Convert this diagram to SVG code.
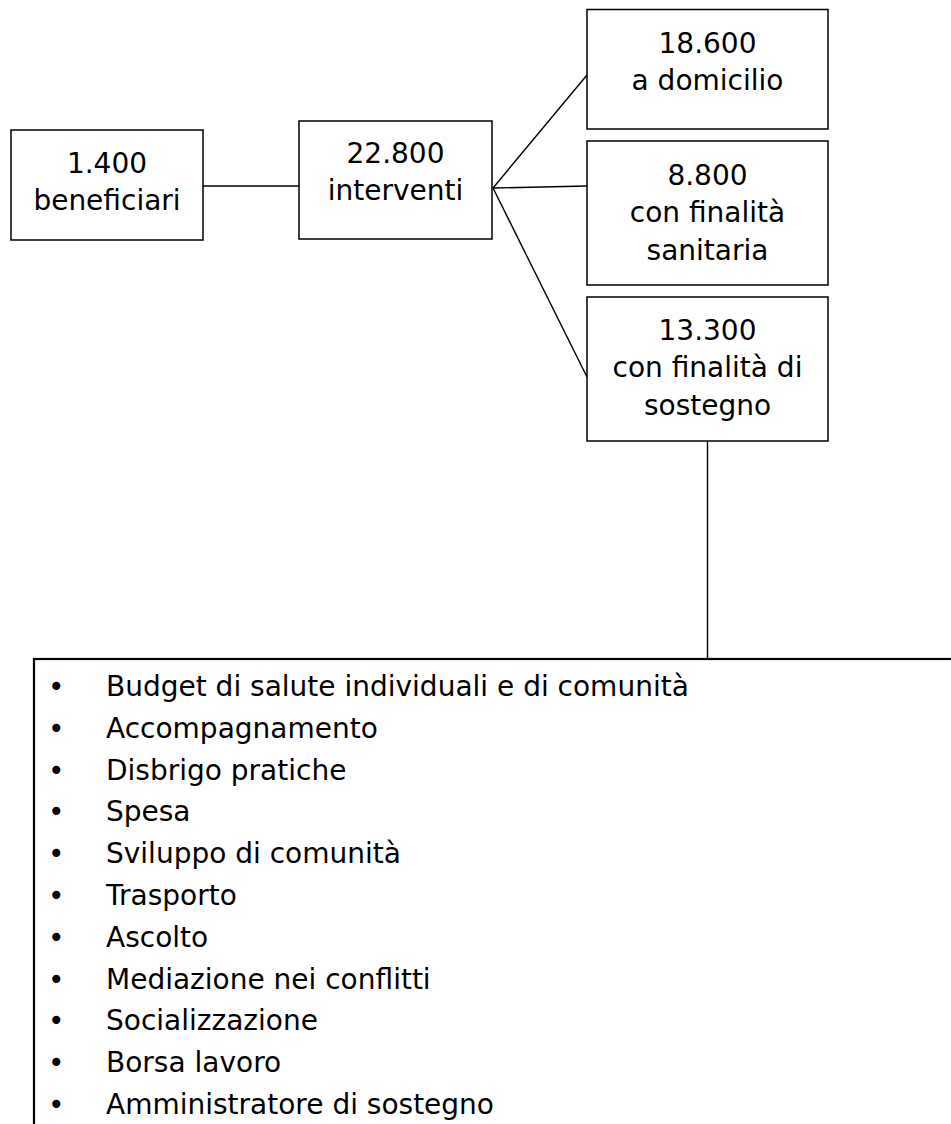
<svg xmlns="http://www.w3.org/2000/svg" width="951" height="1124" viewBox="0 0 951 1124">
<style>
.box{fill:#fff;stroke:#000;stroke-width:1.5}
.big{fill:#fff;stroke:#000;stroke-width:2.2}
.ln{stroke:#000;stroke-width:1.4;fill:none}
.t{font-family:"DejaVu Sans","Liberation Sans",sans-serif;font-size:28px;fill:#000;text-anchor:middle}
.l{font-family:"DejaVu Sans","Liberation Sans",sans-serif;font-size:28px;fill:#000}
.b{font-family:"DejaVu Sans","Liberation Sans",sans-serif;font-size:28px;fill:#000}
</style>
<rect width="951" height="1124" fill="#fff"/>
<g id="connectors">
<line class="ln" x1="203" y1="186" x2="299" y2="186"/>
<line class="ln" x1="493" y1="188" x2="587" y2="75"/>
<line class="ln" x1="493" y1="188" x2="587" y2="186"/>
<line class="ln" x1="493" y1="188" x2="587" y2="377"/>
<line class="ln" x1="707.5" y1="441" x2="707.5" y2="659"/>
</g>
<g id="beneficiari">
<rect class="box" x="11" y="130" width="192" height="110"/>
<text class="t" x="107" y="173">1.400</text>
<text class="t" x="107" y="210">beneficiari</text>
</g>
<g id="interventi">
<rect class="box" x="299" y="121" width="193" height="118"/>
<text class="t" x="395.5" y="163">22.800</text>
<text class="t" x="395.5" y="200">interventi</text>
</g>
<g id="domicilio">
<rect class="box" x="587" y="9.5" width="241" height="119.5"/>
<text class="t" x="707.5" y="53">18.600</text>
<text class="t" x="707.5" y="90">a domicilio</text>
</g>
<g id="sanitaria">
<rect class="box" x="587" y="141" width="241" height="144"/>
<text class="t" x="707.5" y="184.5">8.800</text>
<text class="t" x="707.5" y="222">con finalità</text>
<text class="t" x="707.5" y="260">sanitaria</text>
</g>
<g id="sostegno">
<rect class="box" x="587" y="297" width="241" height="144"/>
<text class="t" x="707.5" y="340">13.300</text>
<text class="t" x="707.5" y="377">con finalità di</text>
<text class="t" x="707.5" y="415">sostegno</text>
</g>
<g id="lista">
<rect class="big" x="34" y="659" width="1000" height="600"/>
<g class="b">
<text x="48" y="696">•</text>
<text x="48" y="738">•</text>
<text x="48" y="780">•</text>
<text x="48" y="821">•</text>
<text x="48" y="863">•</text>
<text x="48" y="905">•</text>
<text x="48" y="947">•</text>
<text x="48" y="989">•</text>
<text x="48" y="1030">•</text>
<text x="48" y="1072">•</text>
<text x="48" y="1114">•</text>
</g>
<g class="l">
<text x="106" y="696">Budget di salute individuali e di comunità</text>
<text x="106" y="738">Accompagnamento</text>
<text x="106" y="780">Disbrigo pratiche</text>
<text x="106" y="821">Spesa</text>
<text x="106" y="863">Sviluppo di comunità</text>
<text x="106" y="905">Trasporto</text>
<text x="106" y="947">Ascolto</text>
<text x="106" y="989">Mediazione nei conflitti</text>
<text x="106" y="1030">Socializzazione</text>
<text x="106" y="1072">Borsa lavoro</text>
<text x="106" y="1114">Amministratore di sostegno</text>
</g>
</g>
</svg>
